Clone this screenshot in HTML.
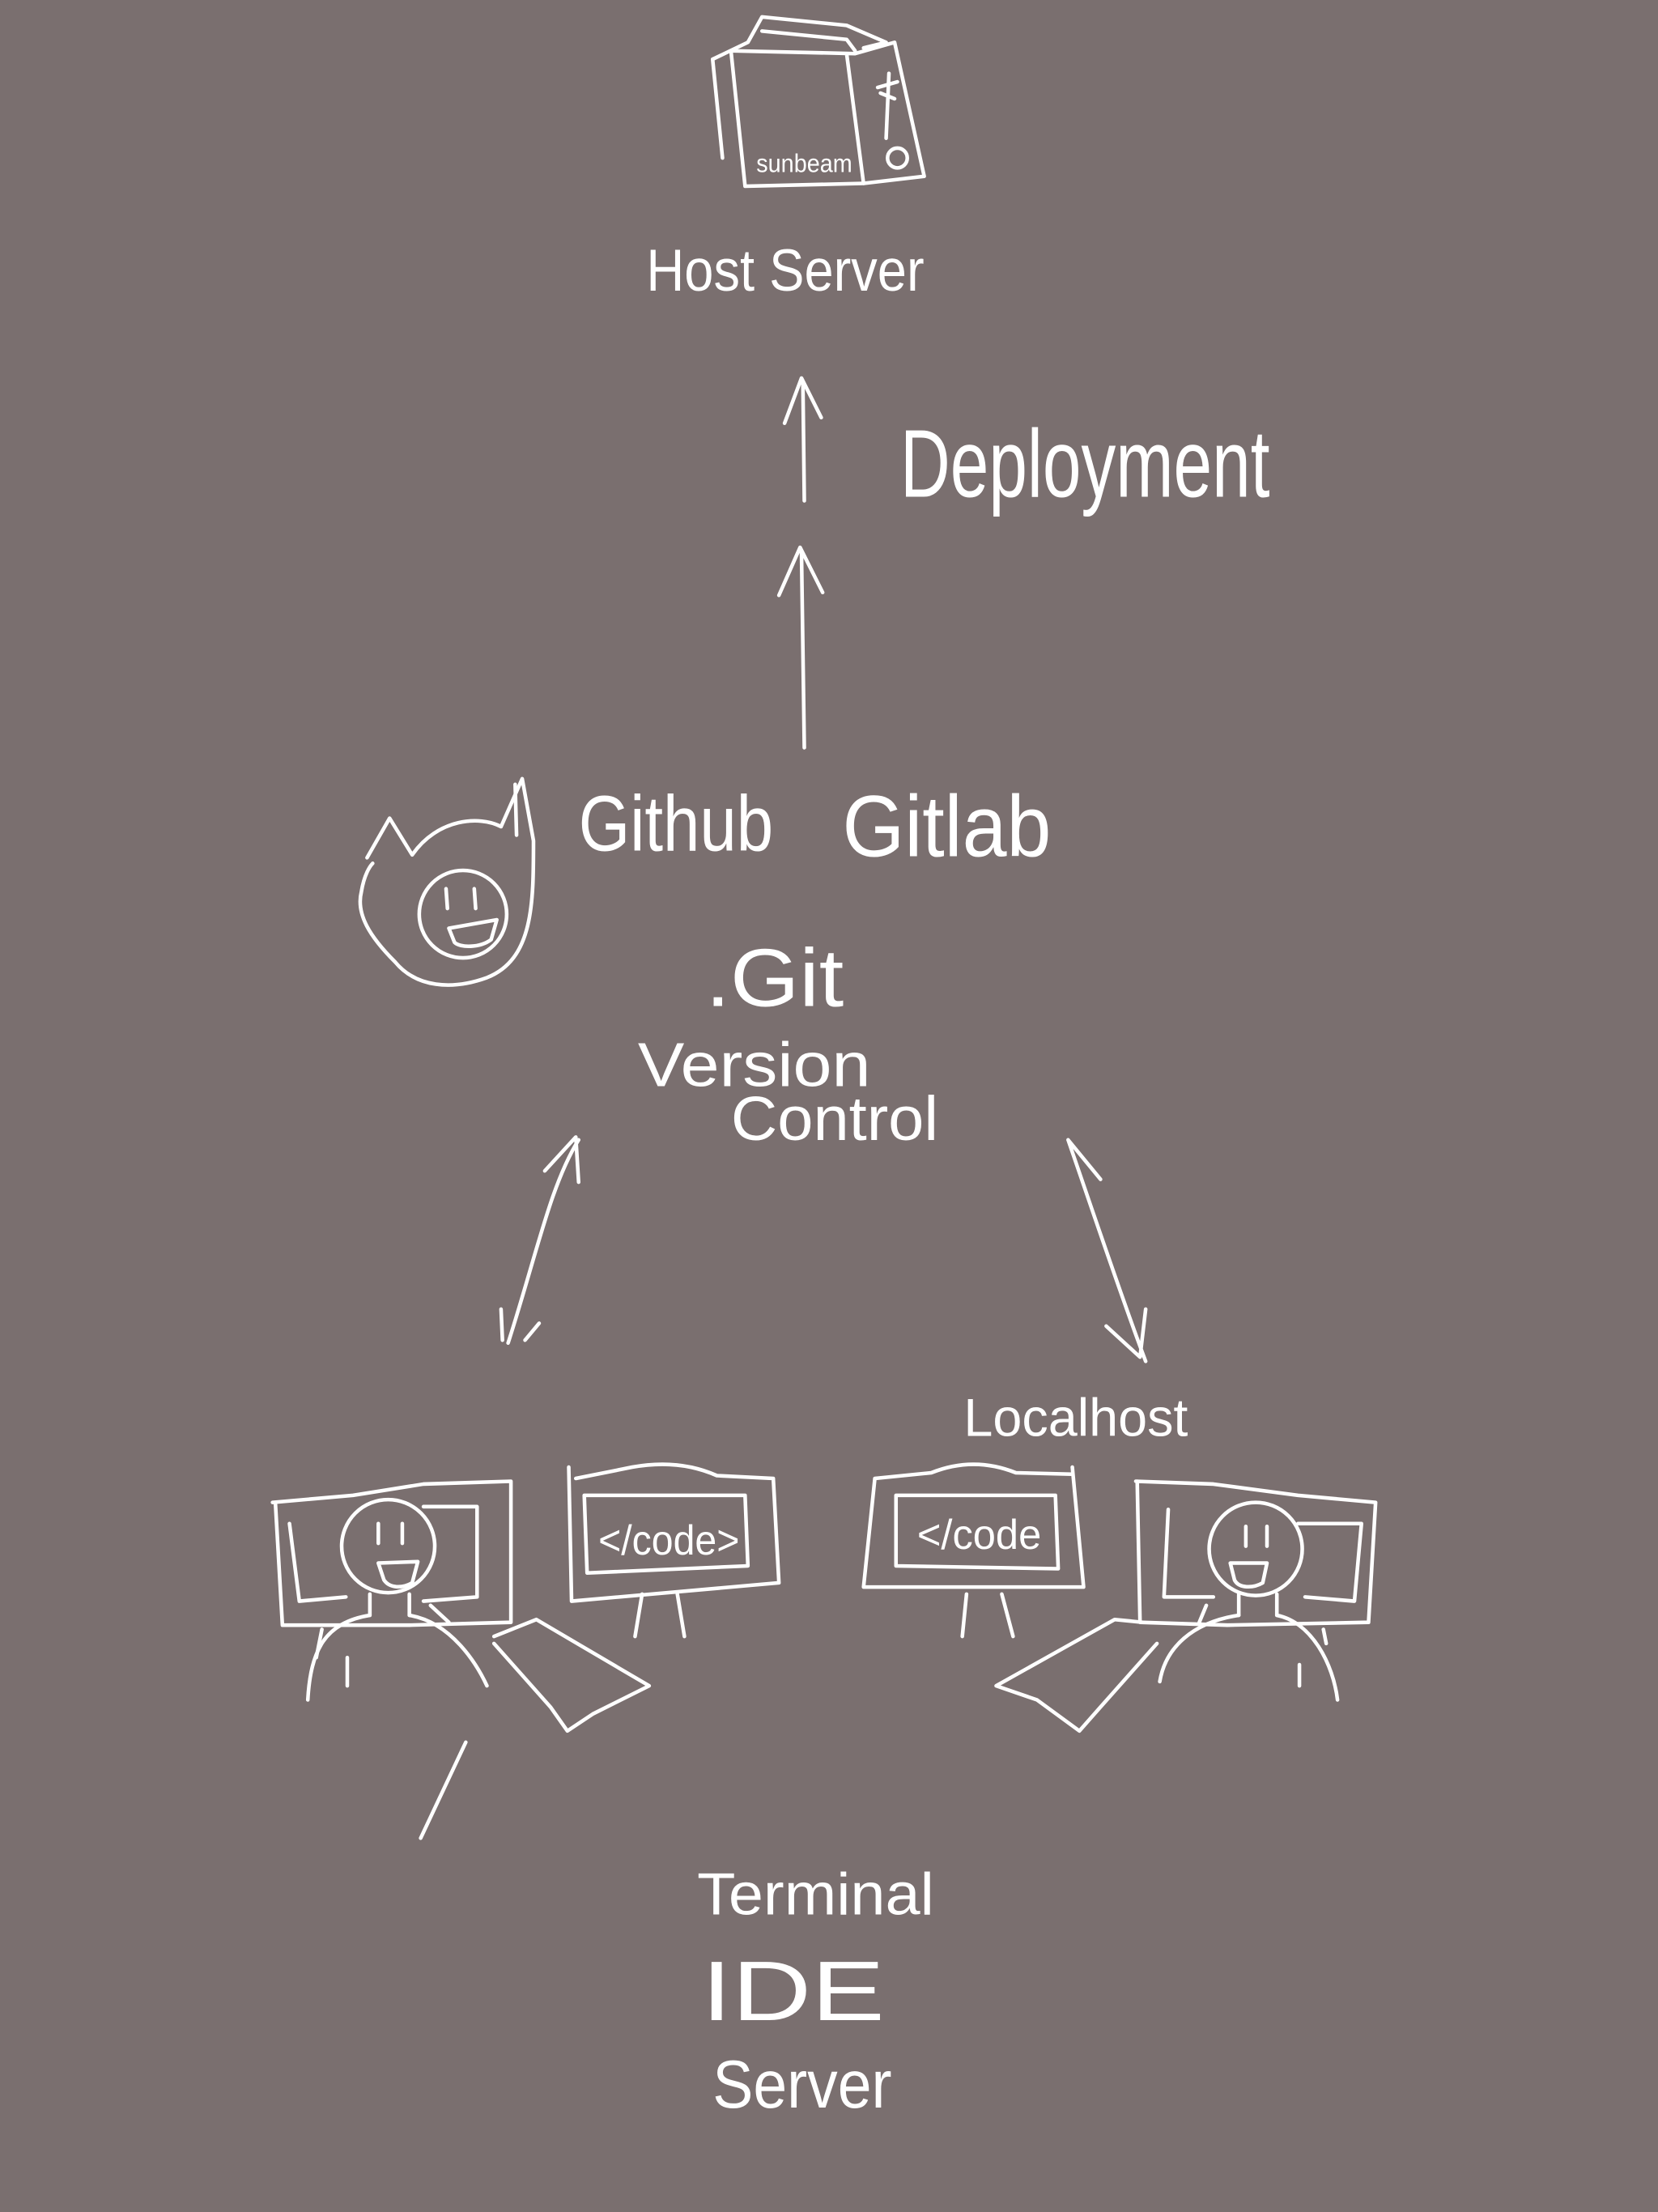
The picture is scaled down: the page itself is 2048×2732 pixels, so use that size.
<!DOCTYPE html>
<html><head><meta charset="utf-8"><style>
html,body{margin:0;padding:0;background:#7a6f6f;}
svg{display:block;}
text{font-family:"Liberation Sans","DejaVu Sans",sans-serif;fill:#fff;font-weight:normal;}
</style></head><body>
<svg width="2048" height="2732" viewBox="0 0 1175 1568" xmlns="http://www.w3.org/2000/svg">
<rect width="1175" height="1568" fill="#7a6f6f"/>
<g fill="none" stroke="#fff" stroke-width="2.6" stroke-linecap="round" stroke-linejoin="round">
<path d="M505 42 L530 30 L540 12 L600 18 L628 30 L612 34"/>
<path d="M518 36 L606 38 L634 30 L655 125 L612 130 L600 38"/>
<path d="M518 36 L528 132 L612 130"/>
<path d="M505 42 L512 112"/>
<path d="M540 22 L600 28 L606 36"/>
<path d="M630 52 L628 98 M622 62 L636 58 M624 66 L634 70"/>
<circle cx="636" cy="112" r="7"/>
<path d="M570 355 L569 272 M556 300 L568 268 L582 296"/>
<path d="M570 530 L568 392 M552 422 L567 388 L583 420"/>
<path d="M260 608 L276 580 L292 606 C310 580 340 578 355 586 L370 552 L378 596 C378 640 378 680 345 693 C320 702 295 700 280 682 C262 664 252 648 256 632 C258 620 262 614 264 612"/>
<path d="M365 556 L366 592"/>
<circle cx="328" cy="648" r="31"/>
<path d="M316 630 L317 644 M336 630 L337 644"/>
<path d="M318 658 L352 652 L348 666 C340 672 326 672 322 668 Z"/>
<path d="M410 808 C390 840 380 890 360 952 M386 830 L408 806 L410 838"/>
<path d="M355 928 L356 950 M372 950 L382 938"/>
<path d="M757 808 C775 860 795 920 812 965 M757 808 L780 836 M784 940 L808 962 L812 928"/>
<path d="M193 1065 L250 1060 L300 1052 L362 1050 L362 1150 L290 1152 L200 1152 L195 1065"/>
<path d="M205 1080 L212 1135 L245 1132 M300 1135 L338 1132 L338 1068 L300 1068"/>
<circle cx="275" cy="1096" r="33"/>
<path d="M268 1080 L268 1094 M285 1080 L285 1094"/>
<path d="M268 1108 L296 1107 L292 1122 C285 1126 276 1126 272 1120 Z"/>
<path d="M262 1130 L262 1145 M290 1130 L290 1145"/>
<path d="M218 1205 C220 1170 230 1150 262 1145 M290 1145 C320 1150 338 1180 345 1195"/>
<path d="M305 1138 L318 1150 M246 1175 L246 1195 M228 1155 L224 1175"/>
<path d="M403 1040 L405 1135 L552 1122 L548 1048 L508 1046 C490 1038 470 1036 448 1040 L408 1048"/>
<path d="M414 1060 L416 1115 L530 1110 L528 1060 Z"/>
<path d="M455 1130 L450 1160 M480 1130 L485 1160"/>
<path d="M350 1160 L380 1148 L460 1195 L420 1215 L402 1227 L390 1210 L350 1165"/>
<path d="M760 1040 L768 1125 L612 1125 L620 1048 L660 1044 C680 1036 700 1036 720 1044 L760 1045"/>
<path d="M635 1060 L635 1110 L750 1112 L748 1060 Z"/>
<path d="M685 1130 L682 1160 M710 1130 L718 1160"/>
<path d="M810 1150 L790 1148 L706 1195 L735 1205 L765 1227 L780 1210 L820 1165"/>
<path d="M805 1050 L860 1052 L920 1060 L975 1065 L970 1150 L870 1152 L808 1150 L806 1050"/>
<path d="M828 1070 L825 1132 L860 1132 M920 1080 L965 1080 L960 1135 L925 1132"/>
<circle cx="890" cy="1098" r="33"/>
<path d="M883 1082 L883 1096 M898 1082 L898 1096"/>
<path d="M872 1108 L898 1108 L895 1122 C888 1126 878 1126 875 1120 Z"/>
<path d="M878 1130 L878 1145 M905 1130 L905 1145"/>
<path d="M822 1192 C826 1168 845 1150 878 1145 M905 1145 C930 1150 945 1180 948 1205"/>
<path d="M855 1138 L850 1150 M921 1180 L921 1195 M938 1155 L940 1165"/>
<path d="M330 1235 L298 1303"/>
</g>
<text x="458" y="206" font-size="42" textLength="197" lengthAdjust="spacingAndGlyphs">Host Server</text>
<text x="638" y="352" font-size="68" textLength="262" lengthAdjust="spacingAndGlyphs">Deployment</text>
<text x="410" y="603" font-size="56" textLength="138" lengthAdjust="spacingAndGlyphs">Github</text>
<text x="597" y="607" font-size="62" textLength="148" lengthAdjust="spacingAndGlyphs">Gitlab</text>
<text x="500" y="713" font-size="58" textLength="98" lengthAdjust="spacingAndGlyphs">.Git</text>
<text x="452" y="770" font-size="44" textLength="165" lengthAdjust="spacingAndGlyphs">Version</text>
<text x="518" y="808" font-size="44" textLength="147" lengthAdjust="spacingAndGlyphs">Control</text>
<text x="683" y="1018" font-size="38" textLength="159" lengthAdjust="spacingAndGlyphs">Localhost</text>
<text x="536" y="122" font-size="18" textLength="68" lengthAdjust="spacingAndGlyphs">sunbeam</text>
<text x="424" y="1102" font-size="30" textLength="100" lengthAdjust="spacingAndGlyphs">&lt;/code&gt;</text>
<text x="650" y="1098" font-size="30" textLength="88" lengthAdjust="spacingAndGlyphs">&lt;/code</text>
<text x="494" y="1357" font-size="42" textLength="168" lengthAdjust="spacingAndGlyphs">Terminal</text>
<text x="497" y="1432" font-size="60" textLength="130" lengthAdjust="spacingAndGlyphs">IDE</text>
<text x="505" y="1494" font-size="48" textLength="127" lengthAdjust="spacingAndGlyphs">Server</text>
</svg>
</body></html>
